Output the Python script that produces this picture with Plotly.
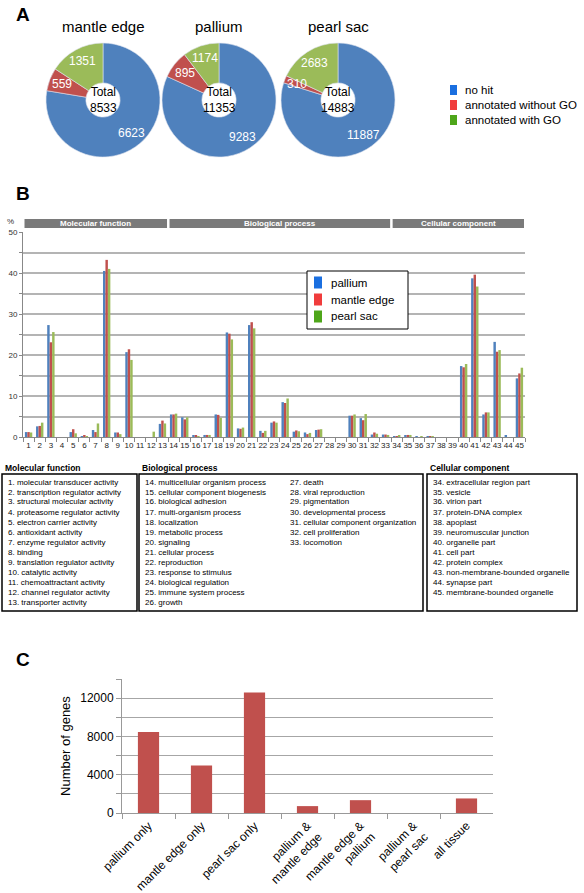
import math
import plotly.graph_objects as go

W, H = 584, 893
FONT = "Liberation Sans, Arial, sans-serif"


def px(x):
    return x / W


def py(y):
    return 1 - y / H


# ---------------- Panel A data ----------------
pie_tissues = ["mantle edge", "pallium", "pearl sac"]
pie_labels = ["no hit", "annotated without GO", "annotated with GO"]
pie_no_hit = [6623, 9283, 11887]
pie_without_go = [559, 895, 310]
pie_with_go = [1351, 1174, 2683]
pie_totals = [8533, 11353, 14883]
pie_colors = ["#4f81bd", "#c0504d", "#9bbb59"]
legend_colors = ["#1a6fe0", "#f03c3c", "#4ea61a"]

# ---------------- Panel B data ----------------
go_categories = [str(i) for i in range(1, 46)]
pallium_pct = [1.2, 2.6, 27.3, 0, 1.2, 0.2, 1.7, 40.5, 1.1, 20.7, 0, 0, 3.2,
               5.5, 4.8, 0.3, 0.5, 5.5, 25.5, 2.1, 27.3, 1.5, 3.5, 8.5, 1.3, 1.1, 1.7,
               0, 0, 5.2, 4.6, 0.6, 0.6,
               0.2, 0.3, 0.05, 0.05, 0, 0, 17.3, 38.7, 5.5, 23.2, 0.3, 14.3]
mantle_pct = [1.2, 2.7, 23.1, 0, 1.9, 0.3, 1.2, 43.2, 1.1, 21.4, 0, 0, 4.0,
              5.5, 4.3, 0.3, 0.5, 5.4, 25.2, 2.0, 28.0, 1.0, 3.8, 8.3, 1.6, 0.7, 1.8,
              0, 0, 5.2, 4.1, 1.1, 0.6,
              0.2, 0.5, 0, 0.05, 0, 0, 17.0, 39.6, 6.0, 20.8, 0, 15.5]
pearl_pct = [1.1, 3.5, 25.6, 0, 0.9, 0.1, 3.3, 41.0, 0.7, 18.8, 0, 1.3, 3.3,
             5.7, 4.8, 0.2, 0.5, 4.7, 23.8, 2.3, 26.5, 1.5, 3.5, 9.4, 1.4, 1.0, 1.9,
             0, 0, 5.5, 5.6, 0.8, 0.5,
             0.3, 0.5, 0.05, 0.05, 0, 0, 17.8, 36.7, 6.0, 21.2, 0, 16.9]
bar_series = ["pallium", "mantle edge", "pearl sac"]
group_names = ["Molecular function", "Biological process", "Cellular component"]
group_ranges = [(1, 13), (14, 33), (34, 45)]

molecular_terms = ["molecular transducer activity", "transcription regulator activity",
                   "structural molecular activity", "proteasome regulator activity",
                   "electron carrier activity", "antioxidant activity",
                   "enzyme regulator activity", "binding", "translation regulator activity",
                   "catalytic activity", "chemoattractant activity",
                   "channel regulator activity", "transporter activity"]
biological_terms = ["multicellular organism process", "cellular component biogenesis",
                    "biological adhesion", "multi-organism process", "localization",
                    "metabolic process", "signaling", "cellular process", "reproduction",
                    "response to stimulus", "biological regulation",
                    "immune system process", "growth", "death", "viral reproduction",
                    "pigmentation", "developmental process",
                    "cellular component organization", "cell proliferation", "locomotion"]
cellular_terms = ["extracellular region part", "vesicle", "virion part",
                  "protein-DNA complex", "apoplast", "neuromuscular junction",
                  "organelle part", "cell part", "protein complex",
                  "non-membrane-bounded organelle", "synapse part",
                  "membrane-bounded organelle"]

# ---------------- Panel C data ----------------
overlap_labels = ["pallium only", "mantle edge only", "pearl sac only",
                  "pallium &<br>mantle edge", "mantle edge &<br>pallium",
                  "pallium &<br>pearl sac", "all tissue"]
overlap_counts = [8450, 4950, 12600, 720, 1340, 0, 1520]

fig = go.Figure()
shapes = []
ann = []


def note(text, x, y, size, color="black", xanchor="center", xref="paper"):
    ann.append(dict(text=text, x=x, y=y, xref=xref, yref="paper", xanchor=xanchor,
                    yanchor="middle", showarrow=False,
                    font=dict(size=size, color=color, family=FONT)))


# ---------------- Panel A ----------------
pie_cx = [103, 219, 338]
pie_cy = 100
pie_r = 57
for i, t in enumerate(pie_tissues):
    cx = pie_cx[i]
    vals = [pie_no_hit[i], pie_without_go[i], pie_with_go[i]]
    fig.add_trace(go.Pie(
        labels=pie_labels, values=vals,
        sort=False, direction="clockwise", rotation=0, hole=0.3,
        marker=dict(colors=pie_colors, line=dict(color="#dde3ee", width=0.6)),
        textinfo="none", hoverinfo="label+value", showlegend=False,
        domain=dict(x=[px(cx - pie_r), px(cx + pie_r)],
                    y=[py(pie_cy + pie_r), py(pie_cy - pie_r)]),
    ))
    note(t, px(cx), py(27), 15)
    note("Total<br>%d" % pie_totals[i], px(cx), py(pie_cy), 12)
    # value labels at slice mid-angles (clockwise from 12 o'clock)
    tot = float(sum(vals))
    cum = 0.0
    for v in vals:
        mid = (cum + v / 2) / tot * 2 * math.pi
        cum += v
        rr = pie_r * 0.77
        lx = cx + rr * math.sin(mid)
        ly = pie_cy - rr * math.cos(mid)
        note(str(v), px(lx), py(ly), 12, color="white")

ann.append(dict(text="<b>A</b>", x=px(14), y=py(14), xref="paper", yref="paper",
                xanchor="left", yanchor="middle", showarrow=False,
                font=dict(size=19, color="black", family=FONT)))

for k, lab in enumerate(pie_labels):
    yc = 90 + k * 15
    shapes.append(dict(type="rect", xref="paper", yref="paper",
                       x0=px(450), x1=px(457), y0=py(yc + 5), y1=py(yc - 5),
                       fillcolor=legend_colors[k], line=dict(width=0)))
    note(lab, px(463), py(yc), 11.5, xanchor="left")

# ---------------- Panel B ----------------
for name, vals, col in zip(bar_series, [pallium_pct, mantle_pct, pearl_pct], pie_colors):
    fig.add_trace(go.Bar(x=go_categories, y=vals, name=name,
                         marker=dict(color=col, line=dict(width=0)),
                         xaxis="x", yaxis="y", showlegend=False))

ann.append(dict(text="<b>B</b>", x=px(14), y=py(193), xref="paper", yref="paper",
                xanchor="left", yanchor="middle", showarrow=False,
                font=dict(size=19, color="black", family=FONT)))
note("%", px(5), py(222), 8, color="#333", xanchor="left")

b_x0, b_x1 = 23, 525
cat_w = (b_x1 - b_x0) / len(go_categories)
for gname, (a, b) in zip(group_names, group_ranges):
    gx0 = b_x0 + (a - 1) * cat_w + 1.5
    gx1 = b_x0 + b * cat_w - 1
    shapes.append(dict(type="rect", xref="paper", yref="paper",
                       x0=px(gx0), x1=px(gx1), y0=py(228), y1=py(219),
                       fillcolor="#7a7a7a", line=dict(width=0)))
    note("<b>%s</b>" % gname, px((gx0 + gx1) / 2), py(223.5), 8, color="white")

# legend B
shapes.append(dict(type="rect", xref="paper", yref="paper", x0=px(307), x1=px(408),
                   y0=py(329), y1=py(271), line=dict(color="black", width=1), fillcolor="white"))
for k, lab in enumerate(bar_series):
    yc = 282.5 + k * 17
    shapes.append(dict(type="rect", xref="paper", yref="paper",
                       x0=px(314), x1=px(322), y0=py(yc + 6), y1=py(yc - 6),
                       fillcolor=legend_colors[k], line=dict(width=0)))
    note(lab, px(329), py(yc), 11.5, xanchor="left")

# text boxes
boxes = [
    ("Molecular function", 2, 137, [("%d. %s" % (i + 1, t)) for i, t in enumerate(molecular_terms)], None),
    ("Biological process", 139, 423, [("%d. %s" % (i + 14, t)) for i, t in enumerate(biological_terms)], 13),
    ("Cellular component", 427, 577, [("%d. %s" % (i + 34, t)) for i, t in enumerate(cellular_terms)], None),
]
for title, x0, x1, items, split in boxes:
    shapes.append(dict(type="rect", xref="paper", yref="paper", x0=px(x0), x1=px(x1),
                       y0=py(611), y1=py(474), line=dict(color="black", width=1.5)))
    note("<b>%s</b>" % title, px(x0 + 1), py(468), 8.5, xanchor="left")
    for j, it in enumerate(items):
        if split is not None and j >= split:
            xx, row = 288, j - split
        else:
            xx, row = x0 + 4, j
        note(it, px(xx), py(482 + row * 10), 8, xanchor="left")

# ---------------- Panel C ----------------
fig.add_trace(go.Bar(x=overlap_labels, y=overlap_counts,
                     marker=dict(color="#c0504d", line=dict(width=0)),
                     xaxis="x2", yaxis="y2", showlegend=False, width=0.4))
ann.append(dict(text="<b>C</b>", x=px(14), y=py(659), xref="paper", yref="paper",
                xanchor="left", yanchor="middle", showarrow=False,
                font=dict(size=19, color="black", family=FONT)))

fig.update_layout(
    width=W, height=H, margin=dict(l=0, r=0, t=0, b=0, autoexpand=False),
    paper_bgcolor="white", plot_bgcolor="white",
    font=dict(family=FONT, color="black"),
    barmode="group", bargap=0.34, bargroupgap=0,
    shapes=shapes, annotations=ann,
    xaxis=dict(domain=[px(b_x0), px(b_x1)], anchor="y", type="category", range=[-0.5, 44.5],
               automargin=False, tickangle=0,
               showline=True, linecolor="#888", linewidth=1, ticks="outside", tickson="boundaries",
               ticklen=4, tickcolor="#888", tickfont=dict(size=8, color="#222"), showgrid=False),
    yaxis=dict(domain=[py(437), py(232)], anchor="x", range=[0, 50], automargin=False,
               tickvals=list(range(0, 51, 5)),
               ticktext=[str(v) if v % 10 == 0 else "" for v in range(0, 51, 5)],
               showline=True, linecolor="#888", linewidth=1, ticks="outside", ticklen=3,
               tickcolor="#888", tickfont=dict(size=8, color="#333"),
               showgrid=True, gridcolor="#b4b4b4", gridwidth=1.5, zeroline=False),
    xaxis2=dict(domain=[px(122), px(493)], anchor="y2", type="category", automargin=False,
                showline=True, linecolor="#999", linewidth=1, ticks="outside", tickson="boundaries",
                ticklen=5, tickcolor="#999", tickangle=-45, tickfont=dict(size=12, color="black"),
                showgrid=False),
    yaxis2=dict(domain=[py(813), py(679)], anchor="x2", range=[0, 14000], automargin=False,
                tickvals=list(range(0, 14001, 2000)),
                ticktext=[str(v) if v % 4000 == 0 else "" for v in range(0, 14001, 2000)],
                showline=True, linecolor="#999", linewidth=1, ticks="outside", ticklen=5,
                tickcolor="#999", tickfont=dict(size=12, color="black"),
                showgrid=True, gridcolor="#a6a6a6", gridwidth=1.2, zeroline=False,
                title=dict(text="Number of genes", font=dict(size=13, color="black"), standoff=6)),
)

fig.write_html("out.html", config={"displayModeBar": False},
               post_script="document.body.style.margin='0px';")
